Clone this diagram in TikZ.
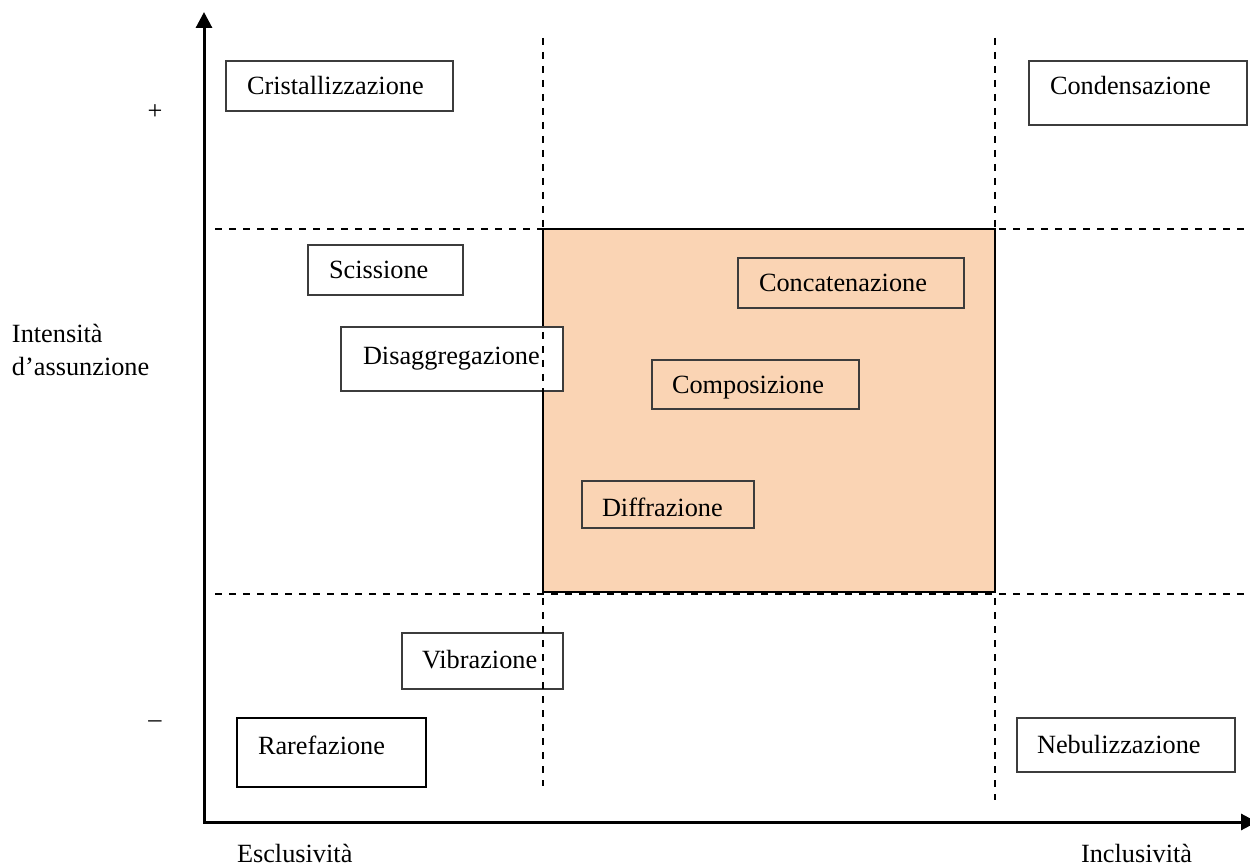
\documentclass[tikz,border=0pt]{standalone}
\usepackage{fontspec}
\setmainfont{Liberation Serif}
\usetikzlibrary{arrows.meta}
\definecolor{peach}{RGB}{250,212,180}
\definecolor{boxgray}{RGB}{60,60,60}
\begin{document}
\begin{tikzpicture}[x=1pt,y=-1pt,
  every node/.style={font=\fontsize{26.3}{30}\selectfont, inner sep=0pt, outer sep=0pt},
  frame/.style={draw=boxgray, line width=1.3pt, fill=white, rectangle, anchor=north west},
  clearframe/.style={frame, fill=none},
  thickframe/.style={frame, draw=black, line width=2.6pt},
  lbl/.style={anchor=base west},
  gridline/.style={line width=1.8pt, dash pattern=on 7pt off 7pt},
  axisline/.style={line width=3pt, -{Triangle[length=16pt,width=16pt]}}]
\useasboundingbox (0,0) rectangle (1250,866);

% central zone
\node[draw=black, line width=1.5pt, fill=peach, rectangle, anchor=north west,
      minimum width=452pt, minimum height=363pt] (zone) at (543,229) {};

% boxes
\node[frame, minimum width=227pt, minimum height=50pt] (cri) at (226,61) {};
\node[frame, minimum width=218pt, minimum height=64pt] (con) at (1029,61) {};
\node[frame, minimum width=155pt, minimum height=50pt] (sci) at (308,245) {};
\node[frame, minimum width=222pt, minimum height=64pt] (dis) at (341,327) {};
\node[clearframe, minimum width=226pt, minimum height=50pt] (cat) at (738,258) {};
\node[clearframe, minimum width=207pt, minimum height=49pt] (com) at (652,360) {};
\node[clearframe, minimum width=172pt, minimum height=47pt] (dif) at (582,481) {};
\node[frame, minimum width=161pt, minimum height=56pt] (vib) at (402,633) {};
\node[thickframe, minimum width=189pt, minimum height=69pt] (rar) at (237,718) {};
\node[frame, minimum width=218pt, minimum height=54pt] (neb) at (1017,718) {};

% dashed grid
\coordinate (v1t) at (543,38);  \coordinate (v1b) at (543,786);
\coordinate (v2t) at (995,38);  \coordinate (v2b) at (995,800);
\coordinate (h1l) at (215,229); \coordinate (h1r) at (1250,229);
\coordinate (h2l) at (215,594); \coordinate (h2r) at (1250,594);
\draw[gridline] (v1t) -- (v1b);
\draw[gridline] (v2t) -- (v2b);
\draw[gridline] (h1l) -- (h1r);
\draw[gridline] (h2l) -- (h2r);

% axes
\coordinate (o) at (204,822);
\coordinate (ytop) at (204,12);
\coordinate (xend) at (1257,822);
\draw[axisline] (o) -- (ytop);
\draw[axisline] (203,822) -- (xend);

% labels in boxes
\node[lbl] (cri-t) at (247,95) {Cristallizzazione};
\node[lbl] (con-t) at (1050,95) {Condensazione};
\node[lbl] (sci-t) at (329,279) {Scissione};
\node[lbl] (dis-t) at (363,365) {Disaggregazione};
\node[lbl] (cat-t) at (759,292) {Concatenazione};
\node[lbl] (com-t) at (672,393) {Composizione};
\node[lbl] (dif-t) at (602,516) {Diffrazione};
\node[lbl] (vib-t) at (422,668) {Vibrazione};
\node[lbl] (rar-t) at (258,754) {Rarefazione};
\node[lbl] (neb-t) at (1037,753) {Nebulizzazione};

% axis labels
\node (plus) at (155,112) {+};
\node (minus) at (155,724) {–};
\node[lbl] (int1) at (12,343) {Intensità};
\node[lbl] (int2) at (12,375) {d’assunzione};
\node[lbl] (esc) at (237,862) {Esclusività};
\node[lbl] (inc) at (1081,862) {Inclusività};
\end{tikzpicture}
\end{document}
